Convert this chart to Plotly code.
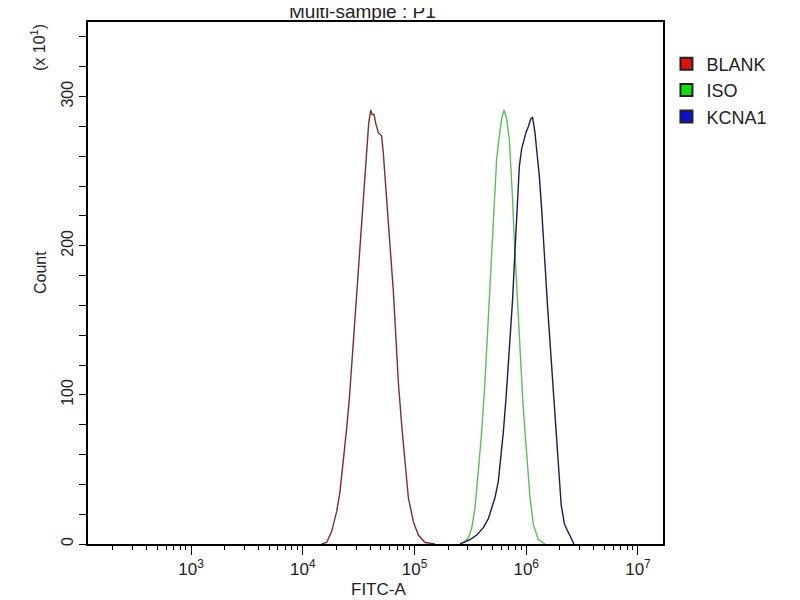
import plotly.graph_objects as go

# ---- data (x as log10 of FITC-A, counts in units of 10) ----
blank_log = [4.169, 4.214, 4.259, 4.304, 4.333, 4.363, 4.393, 4.417, 4.438, 4.462, 4.482, 4.506,
             4.527, 4.551, 4.572, 4.590, 4.608, 4.620, 4.638, 4.653, 4.676, 4.706, 4.721, 4.751,
             4.781, 4.811, 4.834, 4.855, 4.885, 4.915, 4.945, 4.990, 5.034, 5.094, 5.183]
blank_cnt = [0, 1, 8.5, 22, 35, 55, 77.5, 97.5, 120, 144, 169, 196,
             218, 242, 267, 282, 291, 288, 288, 282, 276, 273.5, 262, 231,
             202, 169, 138, 109, 80, 53, 31, 15, 6, 1, 0]

iso_log = [5.437, 5.482, 5.512, 5.541, 5.571, 5.601, 5.631, 5.652, 5.670, 5.691, 5.705, 5.720,
           5.735, 5.759, 5.780, 5.801, 5.825, 5.849, 5.864, 5.878, 5.890, 5.905, 5.920, 5.935,
           5.950, 5.968, 5.989, 6.010, 6.034, 6.064, 6.108, 6.168]
iso_cnt = [1, 4, 10.7, 24, 48.6, 75, 109, 138, 164, 191, 213, 236,
           258, 273.5, 285, 291, 285, 271, 253, 231, 209, 187, 164, 142,
           120, 97.5, 75, 53, 31, 13, 3, 0]

kcna1_log = [5.408, 5.497, 5.557, 5.616, 5.661, 5.691, 5.720, 5.750, 5.771, 5.795, 5.819, 5.840,
             5.860, 5.878, 5.893, 5.908, 5.923, 5.938, 5.959, 5.980, 5.998, 6.019, 6.040, 6.057,
             6.078, 6.099, 6.117, 6.138, 6.153, 6.174, 6.192, 6.213, 6.233, 6.251, 6.272, 6.292,
             6.313, 6.343, 6.388, 6.427]
kcna1_cnt = [0, 3, 6, 11, 17, 24, 31, 42, 57, 75, 97.5, 120,
             142, 164, 187, 209, 231, 253, 265, 271, 276, 280, 285, 286,
             276, 260, 247, 224.5, 202, 180, 158, 135, 113, 91, 69, 46,
             26, 13, 6, 0]

series_names = ["BLANK", "ISO", "KCNA1"]
line_colors = ["#7a2e2e", "#5cbf5c", "#1c1c55"]
legend_colors = ["#e01010", "#10e010", "#1010d0"]

x_major_exp = [3, 4, 5, 6, 7]
y_major = [0, 100, 200, 300]

FONT = "Liberation Sans, Arial, sans-serif"
TXT = "#222222"

fig = go.Figure()
for name, lx, cnt, lc in zip(series_names, [blank_log, iso_log, kcna1_log],
                             [blank_cnt, iso_cnt, kcna1_cnt], line_colors):
    fig.add_trace(go.Scatter(x=[10 ** v for v in lx], y=cnt, mode="lines",
                             line=dict(color=lc, width=1.4), showlegend=False,
                             hoverinfo="skip"))
for name, c in zip(series_names, legend_colors):
    fig.add_trace(go.Scatter(x=[None], y=[None], mode="markers", name=name,
                             marker=dict(symbol="square", size=17, color=c,
                                         line=dict(color="#222222", width=1))))

minor_vals = [k * 10 ** d for d in range(2, 8) for k in range(2, 10)]

# page body has an 8px margin: figure sized/margined so plot area lands at 88..663 x 22..544
fig.update_layout(
    width=792, height=592,
    margin=dict(l=80, r=137, t=14, b=56),
    paper_bgcolor="white", plot_bgcolor="white",
    font=dict(family=FONT, color=TXT, size=14),
    legend=dict(x=1.006, y=0.955, xanchor="left", yanchor="top",
                font=dict(size=18, color=TXT, family=FONT),
                bgcolor="rgba(0,0,0,0)", itemsizing="constant",
                tracegroupgap=0, itemwidth=30),
    xaxis=dict(type="log", range=[2.078, 7.224],
               tickvals=[10 ** e for e in x_major_exp],
               ticktext=["10<sup>%d</sup>" % e for e in x_major_exp],
               ticks="outside", ticklen=9, tickwidth=1.3, tickcolor="black",
               showline=True, linecolor="black", linewidth=1.5, mirror=True,
               showgrid=False, zeroline=False,
               tickfont=dict(size=17, color=TXT, family=FONT),
               minor=dict(tickvals=minor_vals, ticks="outside", ticklen=4,
                          tickwidth=1.2, tickcolor="black", showgrid=False)),
    yaxis=dict(range=[0, 350], tickvals=y_major, ticktext=[str(v) for v in y_major],
               ticks="outside", ticklen=7, tickwidth=1.3, tickcolor="black",
               tickangle=-90,
               showline=True, linecolor="black", linewidth=1.5, mirror=True,
               showgrid=False, zeroline=False,
               tickfont=dict(size=16, color=TXT, family=FONT),
               minor=dict(dtick=20, tick0=0, ticks="outside", ticklen=7,
                          tickwidth=1.2, tickcolor="black", showgrid=False)),
    annotations=[
        dict(text="Multi-sample : P1", xref="paper", yref="paper", x=0.477, y=0.997,
             xanchor="center", yanchor="bottom", showarrow=False,
             font=dict(size=19, color=TXT, family=FONT)),
        dict(text="FITC-A", xref="paper", yref="paper", x=0.506, y=-0.088,
             xanchor="center", yanchor="middle", showarrow=False,
             font=dict(size=17, color=TXT, family=FONT)),
        dict(text="Count", xref="paper", yref="paper", x=-0.0835, y=0.521,
             xanchor="center", yanchor="middle", showarrow=False, textangle=-90,
             font=dict(size=16, color=TXT, family=FONT)),
        dict(text="(x 10<sup>1</sup>)", xref="paper", yref="paper", x=-0.087, y=0.952,
             xanchor="center", yanchor="middle", showarrow=False, textangle=-90,
             font=dict(size=16, color=TXT, family=FONT)),
    ],
)

fig.write_html("out.html")
